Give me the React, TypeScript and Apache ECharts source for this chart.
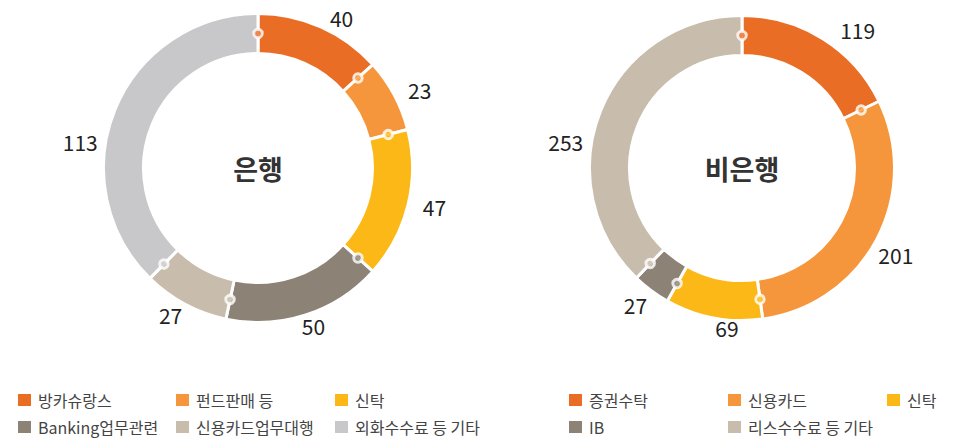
import React, { useEffect, useRef } from "react";
import * as echarts from "echarts";

const bankCategories = ["방카슈랑스", "펀드판매 등", "신탁", "Banking업무관련", "신용카드업무대행", "외화수수료 등 기타"];
const bankValues = [40, 23, 47, 50, 27, 113];
const bankColors = ["#E96D25", "#F6963C", "#FBB817", "#8C8276", "#C8BCAC", "#C8C8CA"];

const nonBankCategories = ["증권수탁", "신용카드", "신탁", "IB", "리스수수료 등 기타"];
const nonBankValues = [119, 201, 69, 27, 253];
const nonBankColors = ["#E96D25", "#F6963C", "#FBB817", "#8C8276", "#C8BCAC"];

const FONT = "'Noto Sans CJK KR', 'Noto Sans', sans-serif";

function cumulative(values: number[]): number[] {
  const out: number[] = [];
  let s = 0;
  for (const v of values) {
    out.push(s);
    s += v;
  }
  return out;
}

function sum(values: number[]) {
  return values.reduce((a, b) => a + b, 0);
}

export default function App() {
  const ref = useRef<HTMLDivElement>(null);
  useEffect(() => {
    document.body.style.margin = "0";
    if (!ref.current) return;
    const chart = echarts.init(ref.current, undefined, { renderer: "svg" });

    // label nudges to follow the reference's hand placed labels
    const labelNudges = [
      [[0, 0], [0, 0], [0, 0], [-12, 2], [7, 2], [-3, 36]],
      [[7, 0], [-12, 10], [32, 0], [7, 7], [-3, 35]],
    ];

    const charts = [
      { cats: bankCategories, vals: bankValues, colors: bankColors, center: [258, 168], r: 153, title: "은행" },
      { cats: nonBankCategories, vals: nonBankValues, colors: nonBankColors, center: [742, 168], r: 151, title: "비은행" },
    ];

    const series: any[] = [];
    const polar: any[] = [];
    const angleAxis: any[] = [];
    const radiusAxis: any[] = [];
    const graphic: any[] = [];

    charts.forEach((c, i) => {
      const inner = c.r - 37;
      const nudges = labelNudges[i];
      series.push({
        type: "pie",
        center: c.center,
        radius: [inner - 1.5, c.r + 1.5],
        startAngle: 90,
        clockwise: true,
        avoidLabelOverlap: false,
        label: {
          show: true,
          position: "outside",
          formatter: "{c}",
          fontSize: 21,
          color: "#222",
          fontFamily: FONT,
        },
        labelLine: { show: false, length: 10, length2: 0 },
        labelLayout: (p: any) => {
          const n = nudges[p.dataIndex] || [0, 0];
          return { dx: n[0], dy: n[1] };
        },
        itemStyle: { borderColor: "#fff", borderWidth: 3 },
        emphasis: { disabled: true },
        data: c.cats.map((n, k) => ({ name: n, value: c.vals[k], itemStyle: { color: c.colors[k] } })),
        z: 2,
      });
      const total = sum(c.vals);
      polar.push({ center: c.center, radius: c.r });
      angleAxis.push({
        polarIndex: i,
        type: "value",
        min: 0,
        max: total,
        startAngle: 90,
        clockwise: true,
        axisLine: { show: false },
        axisTick: { show: false },
        axisLabel: { show: false },
        splitLine: { show: false },
      });
      radiusAxis.push({
        polarIndex: i,
        type: "value",
        min: 0,
        max: c.r,
        axisLine: { show: false },
        axisTick: { show: false },
        axisLabel: { show: false },
        splitLine: { show: false },
      });
      const starts = cumulative(c.vals);
      series.push({
        type: "scatter",
        coordinateSystem: "polar",
        polarIndex: i,
        symbol: "circle",
        symbolSize: 8.5,
        silent: true,
        z: 10,
        data: starts.map((s, k) => ({
          value: [c.r - 18.5, s],
          itemStyle: { color: c.colors[k], borderColor: "#fff", borderWidth: 3 },
        })),
      });
      graphic.push({
        type: "text",
        x: c.center[0],
        y: c.center[1],
        style: {
          text: c.title,
          fontSize: 27,
          fontWeight: "bold",
          fontFamily: FONT,
          fill: "#333",
          textAlign: "center",
          textVerticalAlign: "middle",
        },
      });
    });

    const legendPos: { name: string; left: number; top: number }[] = [];
    const bankCols = [16, 174, 333];
    bankCategories.forEach((n, k) => {
      legendPos.push({ name: n, left: bankCols[k % 3], top: k < 3 ? 392 : 419 });
    });
    const nbCols = [567, 726, 885];
    nonBankCategories.forEach((n, k) => {
      legendPos.push({ name: n, left: nbCols[k % 3], top: k < 3 ? 392 : 419 });
    });

    const legend = legendPos.map((p) => ({
      data: [p.name],
      left: p.left,
      top: p.top,
      padding: 0,
      icon: "rect",
      itemWidth: 15,
      itemHeight: 14,
      selectedMode: false,
      textStyle: { fontSize: 16, color: "#444", fontFamily: FONT, padding: [0, 0, 0, 1] },
    }));

    chart.setOption({
      animation: false,
      polar,
      angleAxis,
      radiusAxis,
      legend,
      series,
      graphic,
    });
    return () => chart.dispose();
  }, []);
  return <div ref={ref} style={{ width: 962, height: 438 }} />;
}
